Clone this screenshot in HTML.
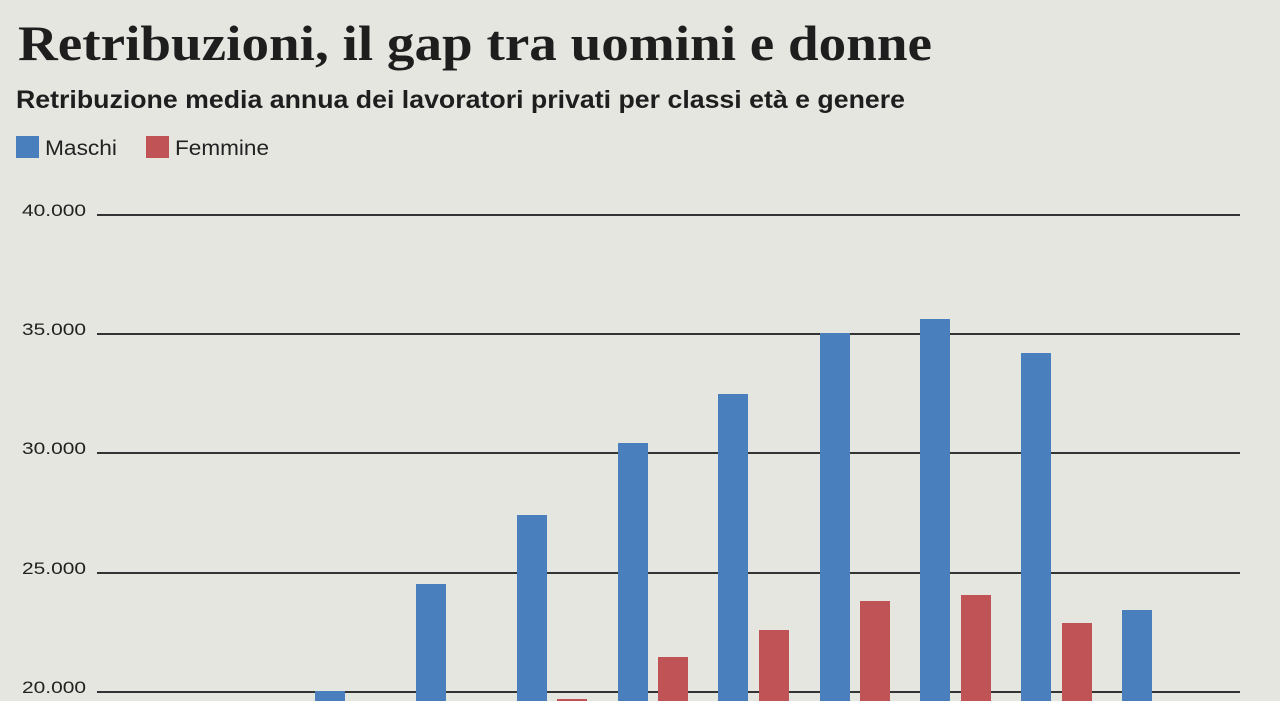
<!DOCTYPE html>
<html><head><meta charset="utf-8"><style>
html,body{margin:0;padding:0;background:#e6e6e1;}
svg{display:block}
</style></head><body>
<svg width="1280" height="701" viewBox="0 0 1280 701" xmlns="http://www.w3.org/2000/svg">
<rect width="1280" height="701" fill="#e6e6e1"/>
<text x="18" y="60" font-family="Liberation Serif, serif" font-weight="bold" font-size="50" fill="#1e1e1e" textLength="914" lengthAdjust="spacingAndGlyphs">Retribuzioni, il gap tra uomini e donne</text>
<text x="16" y="108" font-family="Liberation Sans, sans-serif" font-weight="bold" font-size="25" fill="#1e1e1e" textLength="889" lengthAdjust="spacingAndGlyphs">Retribuzione media annua dei lavoratori privati per classi età e genere</text>
<rect x="16" y="136" width="23" height="22" fill="#4a7fbd"/>
<text x="45" y="155" font-family="Liberation Sans, sans-serif" font-size="21" fill="#222" textLength="72" lengthAdjust="spacingAndGlyphs">Maschi</text>
<rect x="146" y="136" width="23" height="22" fill="#c05356"/>
<text x="175" y="155" font-family="Liberation Sans, sans-serif" font-size="21" fill="#222" textLength="94" lengthAdjust="spacingAndGlyphs">Femmine</text>
<g font-family="Liberation Sans, sans-serif" font-size="17" fill="#222">
<text x="22" y="216" textLength="64" lengthAdjust="spacingAndGlyphs">40.000</text>
<text x="22" y="335" textLength="64" lengthAdjust="spacingAndGlyphs">35.000</text>
<text x="22" y="454" textLength="64" lengthAdjust="spacingAndGlyphs">30.000</text>
<text x="22" y="574" textLength="64" lengthAdjust="spacingAndGlyphs">25.000</text>
<text x="22" y="693" textLength="64" lengthAdjust="spacingAndGlyphs">20.000</text>
</g>
<g stroke="#333" stroke-width="2">
<line x1="97" y1="215" x2="1240" y2="215"/>
<line x1="97" y1="334" x2="1240" y2="334"/>
<line x1="97" y1="453" x2="1240" y2="453"/>
<line x1="97" y1="573" x2="1240" y2="573"/>
<line x1="97" y1="692" x2="1240" y2="692"/>
</g>
<g fill="#4a7fbd">
<rect x="315" y="691" width="30" height="20"/>
<rect x="416" y="584" width="30" height="130"/>
<rect x="517" y="515" width="30" height="200"/>
<rect x="618" y="443" width="30" height="270"/>
<rect x="718" y="394" width="30" height="320"/>
<rect x="820" y="333" width="30" height="380"/>
<rect x="920" y="319" width="30" height="390"/>
<rect x="1021" y="353" width="30" height="360"/>
<rect x="1122" y="610" width="30" height="100"/>
</g>
<g fill="#c05356">
<rect x="557" y="699" width="30" height="10"/>
<rect x="658" y="657" width="30" height="60"/>
<rect x="759" y="630" width="30" height="80"/>
<rect x="860" y="601" width="30" height="110"/>
<rect x="961" y="595" width="30" height="110"/>
<rect x="1062" y="623" width="30" height="90"/>
</g>
</svg>
</body></html>
